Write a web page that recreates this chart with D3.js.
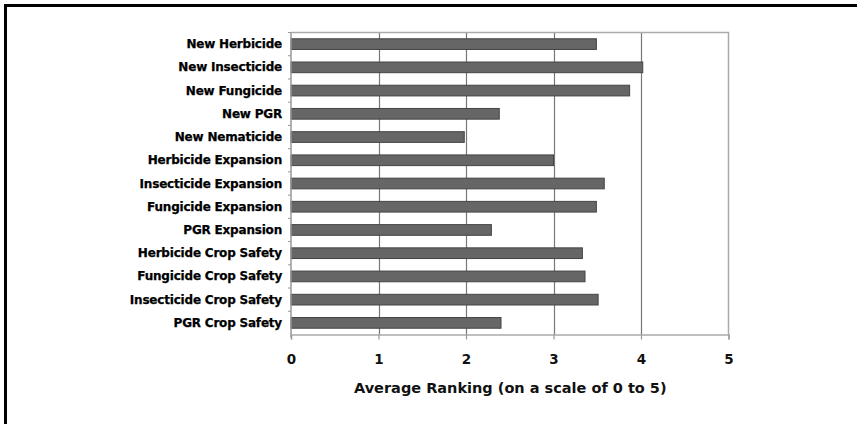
<!DOCTYPE html>
<html><head><meta charset="utf-8">
<script src="https://cdn.jsdelivr.net/npm/d3@7"></script>
<style>body{margin:0;background:#fff}svg{display:block}</style>
</head><body>
<svg id="c" width="857" height="424"></svg>
<script>
const categories = ["New Herbicide","New Insecticide","New Fungicide","New PGR","New Nematicide","Herbicide Expansion","Insecticide Expansion","Fungicide Expansion","PGR Expansion","Herbicide Crop Safety","Fungicide Crop Safety","Insecticide Crop Safety","PGR Crop Safety"];
const values = [3.49,4.02,3.87,2.38,1.98,3.0,3.58,3.49,2.29,3.33,3.36,3.51,2.40];
const xTicks = [0,1,2,3,4,5];
const axisTitle = "Average Ranking (on a scale of 0 to 5)";

const svg = d3.select("#c");
const L = 291, R = 728.5, T = 32.5, B = 334.5;
const x = d3.scaleLinear().domain([0,5]).range([L,R]);
const y = d3.scaleBand().domain(categories).range([T,B]).paddingInner(0.54).paddingOuter(0.27);
const yb = d3.scaleBand().domain(categories).range([T,B]);

// outer frame (top and left only)
svg.append("line").attr("x1",4).attr("x2",857).attr("y1",5.5).attr("y2",5.5).attr("stroke","#000").attr("stroke-width",3);
svg.append("line").attr("x1",5.5).attr("x2",5.5).attr("y1",4).attr("y2",424).attr("stroke","#000").attr("stroke-width",3);

// gridlines
svg.append("g").selectAll("line").data(xTicks.slice(1,5)).join("line")
  .attr("x1",d=>Math.round(x(d))+0.5).attr("x2",d=>Math.round(x(d))+0.5)
  .attr("y1",T).attr("y2",B).attr("stroke","#777").attr("stroke-width",1.2);
// plot border top & right
svg.append("path").attr("d",`M${L},${T}H${R}V${B}`).attr("fill","none").attr("stroke","#aaa").attr("stroke-width",1.5);

// bars
svg.append("g").selectAll("rect").data(values).join("rect")
  .attr("x",x(0)).attr("y",(d,i)=>y(categories[i]))
  .attr("width",d=>x(d)-x(0)).attr("height",y.bandwidth())
  .attr("fill","#666").attr("stroke","#444").attr("stroke-width",1);

// left axis
const gl = svg.append("g");
gl.append("line").attr("x1",L).attr("x2",L).attr("y1",T).attr("y2",B+3).attr("stroke","#999").attr("stroke-width",1.5);
gl.selectAll("line.tk").data(categories).join("line").attr("class","tk")
  .attr("x1",L-3).attr("x2",L).attr("y1",d=>yb(d)).attr("y2",d=>yb(d)).attr("stroke","#999");
gl.selectAll("text").data(categories).join("text")
  .attr("x",282).attr("y",d=>yb(d)+yb.bandwidth()/2)
  .attr("text-anchor","end").attr("dominant-baseline","central")
  .attr("font-family","'DejaVu Sans',sans-serif").attr("font-weight","bold").attr("font-size",12)
  .attr("letter-spacing",-0.2).attr("stroke","#000").attr("stroke-width",0.25)
  .attr("fill","#000").text(d=>d);

// bottom axis
const gx = svg.append("g").attr("transform",`translate(0,${B})`)
  .call(d3.axisBottom(x).tickValues(xTicks).tickFormat(d3.format("d")).tickSize(5).tickPadding(15));
gx.select(".domain").attr("stroke","#aaa").attr("stroke-width",1.5);
gx.selectAll(".tick line").attr("stroke","#999").attr("stroke-width",1.2);
gx.selectAll("text").attr("font-family","'DejaVu Sans',sans-serif").attr("font-weight","bold").attr("font-size",13.5).attr("fill","#111");

svg.append("text").attr("x",(L+R)/2+0.5).attr("y",393)
  .attr("text-anchor","middle").attr("font-family","'DejaVu Sans',sans-serif").attr("font-weight","bold").attr("font-size",14.5)
  .attr("fill","#111").text(axisTitle);
</script>
</body></html>
